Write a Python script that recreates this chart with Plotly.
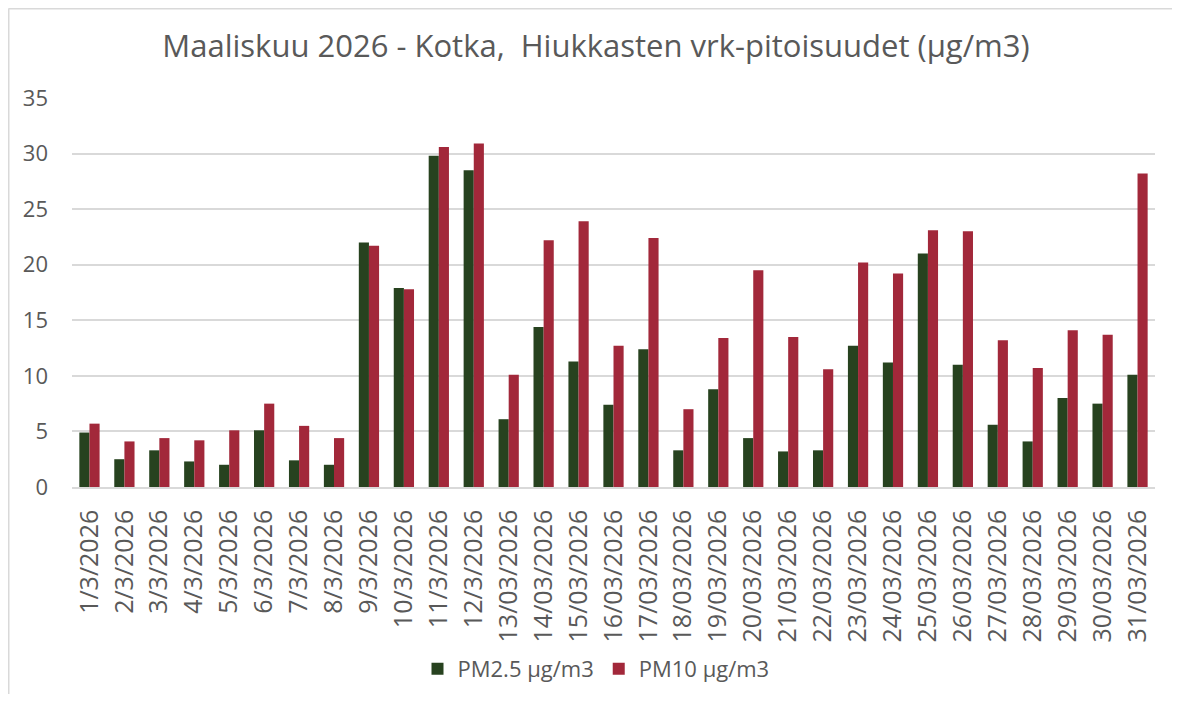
import plotly.graph_objects as go

categories = ["1/3/2026", "2/3/2026", "3/3/2026", "4/3/2026", "5/3/2026", "6/3/2026",
              "7/3/2026", "8/3/2026", "9/3/2026", "10/3/2026", "11/3/2026", "12/3/2026",
              "13/03/2026", "14/03/2026", "15/03/2026", "16/03/2026", "17/03/2026",
              "18/03/2026", "19/03/2026", "20/03/2026", "21/03/2026", "22/03/2026",
              "23/03/2026", "24/03/2026", "25/03/2026", "26/03/2026", "27/03/2026",
              "28/03/2026", "29/03/2026", "30/03/2026", "31/03/2026"]

pm25 = [4.9, 2.5, 3.3, 2.3, 2.0, 5.1, 2.4, 2.0, 22.0, 17.9, 29.8, 28.5,
        6.1, 14.4, 11.3, 7.4, 12.4, 3.3, 8.8, 4.4, 3.2, 3.3,
        12.7, 11.2, 21.0, 11.0, 5.6, 4.1, 8.0, 7.5, 10.1]

pm10 = [5.7, 4.1, 4.4, 4.2, 5.1, 7.5, 5.5, 4.4, 21.7, 17.8, 30.6, 30.9,
        10.1, 22.2, 23.9, 12.7, 22.4, 7.0, 13.4, 19.5, 13.5, 10.6,
        20.2, 19.2, 23.1, 23.0, 13.2, 10.7, 14.1, 13.7, 28.2]

y_ticks = [0, 5, 10, 15, 20, 25, 30, 35]

series_names = ["PM2.5 µg/m3", "PM10 µg/m3"]
title_text = "Maaliskuu 2026 - Kotka,\u00a0 Hiukkasten vrk-pitoisuudet (µg/m3)"

GREEN = "#27421F"
RED = "#A2283A"
TEXT = "#595959"
GRID = "#D9D9D9"
FONT = "Open Sans"

fig = go.Figure()
fig.add_trace(go.Bar(x=categories, y=pm25, name=series_names[0],
                     marker=dict(color=GREEN, line=dict(width=0))))
fig.add_trace(go.Bar(x=categories, y=pm10, name=series_names[1],
                     marker=dict(color=RED, line=dict(width=0))))

# page body has an 8px margin, so figure coords = screen coords - 8
W, H = 1172, 686
L, R, T, B = 64, 25, 90, 207
pw, ph = W - L - R, H - T - B

def px_x(p):
    return (p - L) / pw

def px_y(p):
    return (H - B - p) / ph

fig.update_layout(
    width=W, height=H,
    margin=dict(l=L, r=R, t=T, b=B, autoexpand=False),
    paper_bgcolor="white", plot_bgcolor="white",
    barmode="group", bargap=0.42, bargroupgap=0.0,
    font=dict(family=FONT, color=TEXT, size=20),
    title=dict(text=title_text, x=588 / W, xanchor="center", xref="container",
               y=1 - 38 / H, yanchor="middle", yref="container",
               font=dict(family=FONT, size=31, color=TEXT)),
    legend=dict(orientation="h", x=588 / W, xanchor="center", xref="container",
                y=1 - 661 / H, yanchor="middle", yref="container",
                font=dict(family=FONT, size=22, color=TEXT),
                itemwidth=30, traceorder="normal"),
    xaxis=dict(type="category", tickangle=-90, showgrid=False,
               showline=True, linecolor=GRID, linewidth=1.5,
               ticks="", tickfont=dict(family=FONT, size=25, color=TEXT),
               ticklabelstandoff=11),
    yaxis=dict(range=[0, 35], tickvals=y_ticks, showgrid=True, gridcolor=GRID,
               gridwidth=1.5, zeroline=False, showline=False, ticks="",
               tickfont=dict(family=FONT, size=22, color=TEXT),
               ticklabelstandoff=23),
    shapes=[
        dict(type="line", xref="paper", yref="paper",
             x0=px_x(0.5), x1=px_x(0.5), y0=px_y(0.5), y1=px_y(H),
             line=dict(color=GRID, width=2)),
        dict(type="line", xref="paper", yref="paper",
             x0=px_x(0.5), x1=px_x(W), y0=px_y(0.5), y1=px_y(0.5),
             line=dict(color=GRID, width=2)),
    ],
)

fig.write_html("out.html")
